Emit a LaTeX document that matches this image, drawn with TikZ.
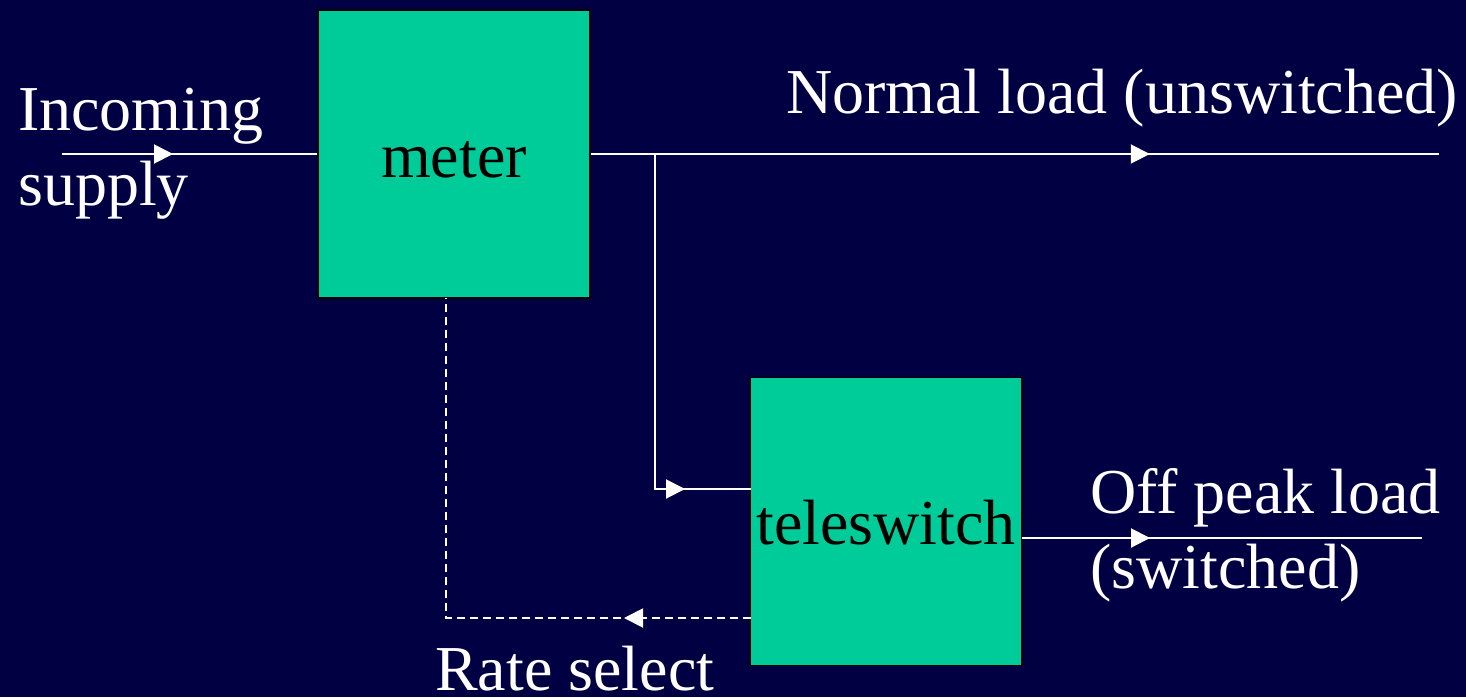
\documentclass[tikz,border=0pt]{standalone}
\usepackage{fontspec}
\setmainfont{Liberation Serif}
\usetikzlibrary{arrows.meta,decorations.markings,positioning}
\definecolor{slidebg}{RGB}{0,0,66}
\definecolor{boxgreen}{RGB}{0,204,153}

\begin{document}
\begin{tikzpicture}[x=1pt,y=-1pt,font=\fontsize{64}{75}\selectfont,
    unit/.style={draw=black,line width=1.5pt,fill=boxgreen,minimum width=272pt,minimum height=288pt,text height=46pt,text depth=0pt,inner sep=0pt},
    wire/.style={draw=white,line width=2pt},
    flow/.style={postaction={decorate},decoration={markings,mark=at position #1 with {\arrow{Triangle[length=19pt,width=19pt]}}}},
    caption/.style={text=white,inner sep=0pt,align=left,anchor=base west}]
    \fill[slidebg] (0,0) rectangle (1466,697);
    \useasboundingbox (0,0) rectangle (1466,697);

    % the two boxes
    \node[unit] (meter) at (454,154) {meter};
    \node[unit] (tele) at (886,521.5) {teleswitch};

    % free ends and corners
    \coordinate (supply) at (62,154);
    \coordinate (normal) at (1439,154);
    \coordinate (branch) at (655,154);
    \coordinate (teleIn) at (751,489);
    \coordinate (teleOut) at (1022,538);
    \coordinate (offpeak) at (1422,538);
    \coordinate (rateOut) at (751,618);
    \coordinate (rateIn) at (446,298);

    \draw[wire,flow=111pt] (supply) -- (meter.west);
    \draw[wire,flow=559pt] (meter.east) -- (normal);
    \draw[wire,flow=365pt] (branch) |- (teleIn);
    \draw[wire,flow=128pt] (teleOut) -- (offpeak);
    \draw[wire,dash pattern=on 8pt off 5pt,flow=127pt] (rateOut) -| (rateIn);

    % labels (base = last line)
    \node[caption] (inLabel) at (18,205) {Incoming\\supply};
    \node[caption] (normalLabel) at (786,113) {Normal load (unswitched)};
    \node[caption] (offLabel) at (1090,588) {Off peak load\\(switched)};
    \node[caption] (rateLabel) at (435,690) {Rate select};
\end{tikzpicture}
\end{document}
